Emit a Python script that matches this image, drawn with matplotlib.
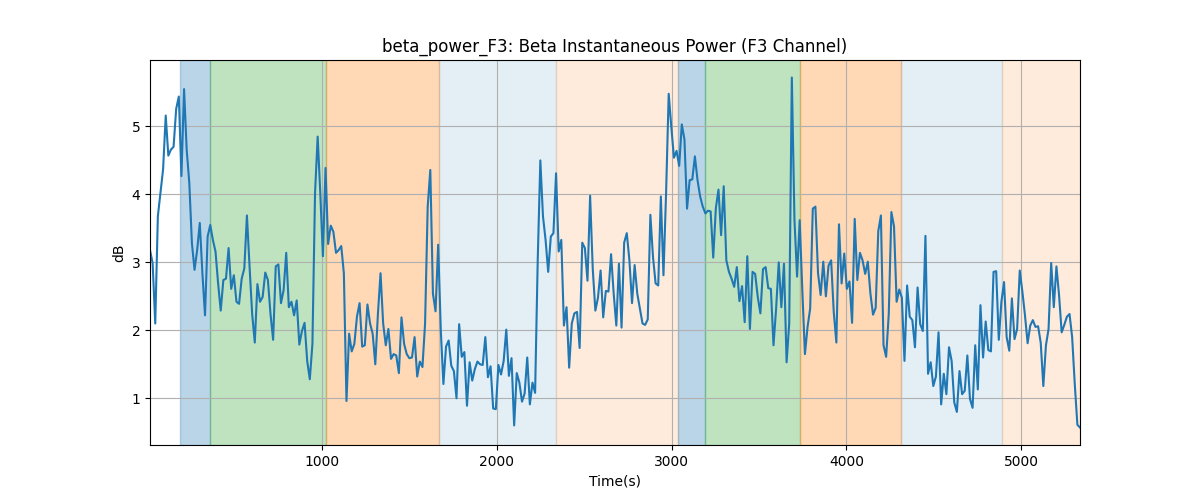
import numpy as np
import matplotlib
matplotlib.use("Agg")
import matplotlib.pyplot as plt

# Beta power values (dB), uniform ~15 s sampling
seg_a = [3.18, 2.99, 2.10, 3.68, 4.02, 4.37, 5.16, 4.57, 4.66, 4.70, 5.26, 5.44, 4.27, 5.55, 4.66,
         4.17, 3.28, 2.89, 3.18, 3.58, 2.84, 2.22, 3.38, 3.55, 3.33, 3.16, 2.69, 2.29, 2.74, 2.76,
         3.21, 2.61, 2.81, 2.42, 2.39, 2.76, 2.91, 3.69, 2.94, 2.24, 1.82, 2.68, 2.42, 2.49, 2.85,
         2.74, 2.24, 1.86, 2.94, 2.97]
seg_b = [2.40, 2.59, 3.14, 2.34, 2.42, 2.22, 2.44, 1.79, 1.99, 2.11, 1.55, 1.28, 1.80, 4.02, 4.85,
         4.02, 3.09, 4.39, 3.27, 3.54, 3.45, 3.14, 3.18, 3.24, 2.84, 0.96, 1.95, 1.69, 1.80, 2.20,
         2.40, 1.76, 1.78, 2.38, 2.10, 1.95, 1.50, 2.24, 2.84, 2.10, 1.78, 2.02, 1.58, 1.65, 1.63,
         1.37, 2.19, 1.80, 1.65, 1.59, 1.60]
seg_c = [1.90, 1.32, 1.54, 1.46, 2.10, 3.82, 4.36, 2.54, 2.28, 3.26, 2.00, 1.21, 1.76, 1.85, 1.48,
         1.40, 1.00, 2.09, 1.61, 1.68, 0.89, 1.53, 1.26, 1.43, 1.54, 1.50, 1.49, 1.90, 1.31, 1.47,
         0.85, 0.84, 1.49, 1.35, 1.55, 2.01, 1.33, 1.59, 0.60, 1.37, 1.23, 0.95, 1.07, 1.60, 0.91,
         1.23, 1.08, 3.03, 4.50, 3.68]
seg_d = [3.33, 2.86, 3.38, 3.43, 4.31, 3.16, 3.33, 2.07, 2.34, 1.45, 2.10, 2.25, 2.27, 1.74, 3.29,
         3.21, 2.73, 3.98, 2.91, 2.29, 2.48, 2.88, 2.19, 2.58, 2.57, 3.12, 2.54, 2.07, 2.98, 2.04,
         3.29, 3.43, 3.03, 2.40, 2.96, 2.54, 2.32, 2.10, 2.08, 2.16, 3.70, 3.08, 2.69, 2.66, 3.97,
         2.81, 4.02, 5.48, 4.99, 4.54, 4.64]
seg_e = [4.42, 5.03, 4.81, 3.79, 4.21, 4.22, 4.56, 4.21, 3.97, 3.82, 3.72, 3.76, 3.75, 3.07, 3.80,
         4.07, 3.40, 4.12, 3.03, 2.86, 2.76, 2.64, 2.93, 2.43, 2.65, 2.12, 3.09, 2.02, 2.86, 2.83,
         2.49, 2.25, 2.90, 2.93, 2.62, 2.61, 1.78, 2.32, 3.00, 2.34, 2.98, 1.53, 2.10, 5.72, 3.63,
         2.79, 3.62, 2.59, 1.65, 2.05]
seg_f = [2.32, 3.79, 3.82, 2.84, 2.52, 3.01, 2.50, 2.95, 3.03, 2.27, 1.82, 3.56, 2.69, 3.13, 2.61,
         2.72, 2.11, 3.64, 2.74, 3.14, 3.03, 2.83, 3.01, 2.54, 2.23, 2.33, 3.46, 3.69, 1.78, 1.61,
         2.24, 3.74, 3.53, 2.42, 2.60, 2.48, 1.55, 2.66, 2.20, 2.15, 1.75, 2.63, 2.09, 1.99, 3.39,
         1.36, 1.53, 1.18, 1.32, 1.97, 0.91]
seg_g = [1.36, 1.06, 1.75, 1.55, 0.94, 0.80, 1.40, 1.06, 1.11, 1.63, 0.99, 0.86, 1.78, 1.13, 2.37,
         1.60, 2.13, 1.71, 1.69, 2.86, 2.87, 1.86, 2.42, 2.71, 1.90, 1.70, 2.47, 1.87, 2.02, 2.88,
         2.57, 2.22, 1.81, 2.07, 2.15, 2.05, 2.06, 1.82, 1.18, 1.78, 2.02, 2.99, 2.34, 2.94, 2.52,
         1.97, 2.08, 2.20, 2.24, 1.90, 1.21, 0.61, 0.57]

power_db = np.array(seg_a + seg_b + seg_c + seg_d + seg_e + seg_f + seg_g)
t_start, t_end = 15.0, 5336.0
time_s = np.linspace(t_start, t_end, len(power_db))

# Shaded phases: (start, end, colour, alpha)
span_starts = [186, 359, 1023, 1666, 2339, 3036, 3188, 3732, 4310, 4891]
span_ends = [359, 1023, 1666, 2339, 3036, 3188, 3732, 4310, 4891, 5336]
span_colors = ["tab:blue", "tab:green", "tab:orange", "tab:blue", "tab:orange",
               "tab:blue", "tab:green", "tab:orange", "tab:blue", "tab:orange"]
span_alphas = [0.3, 0.3, 0.3, 0.12, 0.15, 0.3, 0.3, 0.3, 0.12, 0.15]

fig, ax = plt.subplots(figsize=(12, 5), dpi=100)
for s, e, c, a in zip(span_starts, span_ends, span_colors, span_alphas):
    ax.axvspan(s, e, color=c, alpha=a)
ax.plot(time_s, power_db, color="tab:blue", linewidth=1.5)
ax.set_xlim(time_s[0], time_s[-1])
ax.grid(True)
ax.set_title("beta_power_F3: Beta Instantaneous Power (F3 Channel)")
ax.set_xlabel("Time(s)")
ax.set_ylabel("dB")
fig.savefig("out.png", dpi=100)
